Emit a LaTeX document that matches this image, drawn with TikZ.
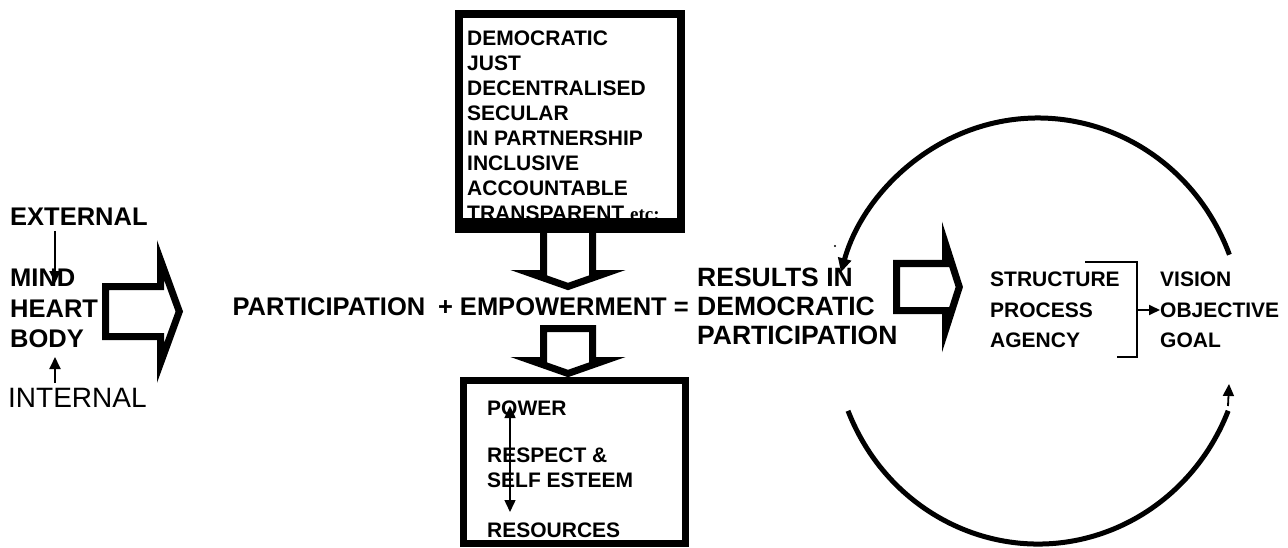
\documentclass[tikz,border=0pt]{standalone}
\usepackage{fontspec}
\setmainfont{Liberation Sans}
\newfontfamily\timesfont{Liberation Serif}
\usetikzlibrary{arrows.meta}
\begin{document}
\begin{tikzpicture}[x=1pt,y=-1pt,
  lbl/.style={anchor=base west,inner sep=0pt,font=\fontsize{25.5}{25.5}\selectfont\bfseries},
  lblbig/.style={anchor=base west,inner sep=0pt,font=\fontsize{26.5}{26.5}\selectfont\bfseries},
  lblr/.style={anchor=base west,inner sep=0pt,font=\fontsize{28}{28}\selectfont},
  boxlbl/.style={anchor=base west,inner sep=0pt,font=\fontsize{21}{21}\selectfont\bfseries},
  blockarrow/.style={draw=black,line width=7pt,line join=miter,miter limit=12},
  frame/.style={draw=black,line width=7pt},
  thinarrow/.style={line width=1.8pt,-{Triangle[length=12pt,width=11pt]}},
  twoarrow/.style={line width=1.5pt,{Triangle[length=12pt,width=11pt]}-{Triangle[length=12pt,width=11pt]}},
  arcline/.style={line width=5pt},
]
\fill[white] (0,0) rectangle (1288,548);
\useasboundingbox (0,0) rectangle (1288,548);

% left texts
\node[lbl] (ext) at (10,226) {EXTERNAL};
\node[lbl] (mind) at (10,287) {MIND};
\node[lbl] (heart) at (10,317) {HEART};
\node[lbl] (body) at (10,347) {BODY};
\node[lblr] (int) at (8,407) {INTERNAL};
\coordinate (extA) at (55,231);
\coordinate (mindA) at (55,283);
\coordinate (intA) at (55,383);
\coordinate (bodyA) at (55,357);
\draw[thinarrow] (extA) -- (mindA);
\draw[thinarrow] (intA) -- (bodyA);

% left block arrow
\draw[blockarrow] (105.5,286.5) -- (160.5,286.5) -- (160.5,260) -- (179.3,311.5)
  -- (160.5,363) -- (160.5,336.5) -- (105.5,336.5) -- cycle;

% main line
\node[lbl,anchor=base east] (eq) at (689,315) {PARTICIPATION\hspace{0.5em}+ EMPOWERMENT =};
\node[lblbig] (res) at (697,286) {RESULTS IN};
\node[lblbig] (dem) at (697,315) {DEMOCRATIC};
\node[lblbig] (part) at (697,344) {PARTICIPATION};

% upper box
\node[boxlbl] (b1) at (467,46) {DEMOCRATIC};
\node[boxlbl] (b2) at (467,71) {JUST};
\node[boxlbl] (b3) at (467,96) {DECENTRALISED};
\node[boxlbl] (b4) at (467,121) {SECULAR};
\node[boxlbl] (b5) at (467,146) {IN PARTNERSHIP};
\node[boxlbl] (b6) at (467,171) {INCLUSIVE};
\node[boxlbl] (b7) at (467,196) {ACCOUNTABLE};
\node[boxlbl] (b8) at (467,221) {TRANSPARENT {\timesfont\bfseries\fontsize{19}{19}\selectfont etc:}};
\draw[line width=8pt] (459,14) rectangle (681,229);
\fill (455,218) rectangle (685,233);

% down arrows
\draw[blockarrow] (543.5,229) -- (543.5,273.5) -- (531,273.5) -- (568,286.5)
  -- (605,273.5) -- (592.5,273.5) -- (592.5,229);
\draw[blockarrow] (543.5,328.5) -- (592.5,328.5) -- (592.5,360.5) -- (605,360.5)
  -- (568,373.5) -- (531,360.5) -- (543.5,360.5) -- cycle;

% lower box
\node[boxlbl] (p1) at (487,415) {POWER};
\node[boxlbl] (p2) at (487,462) {RESPECT \&};
\node[boxlbl] (p3) at (487,487) {SELF ESTEEM};
\node[boxlbl] (p4) at (487,537) {RESOURCES};
\coordinate (pwA) at (510,406);
\coordinate (rsA) at (510,512);
\draw[twoarrow] (pwA) -- (rsA);
\draw[frame] (463.5,380.5) rectangle (685.5,543.5);

% right block arrow
\draw[blockarrow] (896.5,263.5) -- (945.5,263.5) -- (945.5,244) -- (959.3,287)
  -- (945.5,330) -- (945.5,310.5) -- (896.5,310.5) -- cycle;

% right group
\node[boxlbl] (s1) at (990,287) {STRUCTURE};
\node[boxlbl] (s2) at (990,317) {PROCESS};
\node[boxlbl] (s3) at (990,347) {AGENCY};
\node[boxlbl] (v1) at (1160,287) {VISION};
\node[boxlbl] (v2) at (1160,317) {OBJECTIVE};
\node[boxlbl] (v3) at (1160,347) {GOAL};
\draw[line width=2pt] (1085,262) -- (1137,262) -- (1137,357) -- (1117,357);
\coordinate (brA) at (1137,310);
\draw[line width=1.8pt,-{Triangle[length=11pt,width=10pt]}] (brA) -- (v2.west |- brA);

% cycle arcs
\coordinate (topR) at (1229.4,254.7);
\draw[arcline,-{Triangle[length=14pt,width=13pt]}] (topR) arc[start angle=-21,end angle=-164,x radius=205,y radius=213];
\coordinate (botL) at (848,410.8);
\coordinate (botR) at (1228,410.8);
\draw[arcline] (botL) arc[start angle=158,end angle=22,x radius=205,y radius=213];
\coordinate (botTip) at (1229,384);
\draw[thinarrow] (1228,406) -- (botTip);
\fill (835,246) circle[radius=1.2pt];
\end{tikzpicture}
\end{document}
